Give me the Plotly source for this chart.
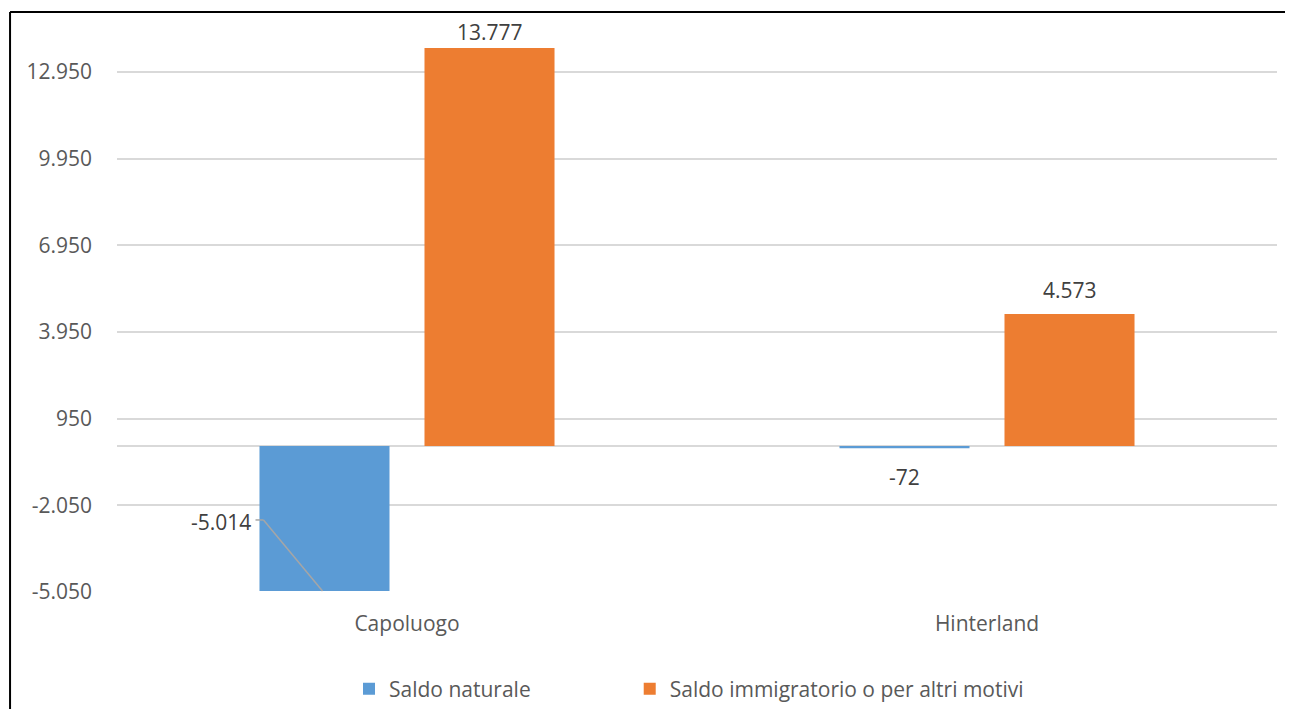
import plotly.graph_objects as go

# ---- data ----
categories = ["Capoluogo", "Hinterland"]
saldo_naturale = [-5014, -72]
saldo_immigratorio = [13777, 4573]
series_names = ["Saldo naturale", "Saldo immigratorio o per altri motivi"]
tick_values = [-5050, -2050, 950, 3950, 6950, 9950, 12950]


def it_fmt(v):
    return f"{v:,}".replace(",", ".")


tick_labels = [it_fmt(v) for v in tick_values]

BLUE = "#5B9BD5"
ORANGE = "#ED7D31"
FONT = "Open Sans"
FS = 21
TICK_COLOR = "#595959"
LABEL_COLOR = "#404040"

BARGAP = 0.431
BARGROUPGAP = 0.212
slot = (1 - BARGAP) / 2

fig = go.Figure()
fig.add_trace(go.Bar(x=categories, y=saldo_naturale, name=series_names[0],
                     marker=dict(color=BLUE, line=dict(width=0)), legend="legend"))
fig.add_trace(go.Bar(x=categories, y=saldo_immigratorio, name=series_names[1],
                     marker=dict(color=ORANGE, line=dict(width=0)), legend="legend2"))

annotations = []
shapes = []
lab_font = dict(family=FONT, size=FS, color=LABEL_COLOR)

# orange labels (above bars)
orange_shift = [16, 24]
for i, v in enumerate(saldo_immigratorio):
    annotations.append(dict(x=i + slot / 2, y=v, xref="x", yref="y", text=it_fmt(v),
                            showarrow=False, yanchor="middle", yshift=orange_shift[i],
                            font=lab_font))

# blue labels
# Capoluogo: moved label with leader line
annotations.append(dict(x=0 - slot / 2, y=saldo_naturale[0], xref="x", yref="y",
                        text=it_fmt(saldo_naturale[0]), showarrow=False,
                        yanchor="middle", xshift=-104, yshift=69, font=lab_font))
shapes.append(dict(type="line", xref="x", yref="y", xsizemode="pixel", ysizemode="pixel",
                   xanchor=0 - slot / 2, yanchor=saldo_naturale[0],
                   x0=-69, y0=71, x1=-61, y1=71, line=dict(color="#A6A6A6", width=1.5)))
shapes.append(dict(type="line", xref="x", yref="y", xsizemode="pixel", ysizemode="pixel",
                   xanchor=0 - slot / 2, yanchor=saldo_naturale[0],
                   x0=-61, y0=71, x1=-2, y1=0, line=dict(color="#A6A6A6", width=1.5)))
# Hinterland
annotations.append(dict(x=1 - slot / 2, y=saldo_naturale[1], xref="x", yref="y",
                        text=it_fmt(saldo_naturale[1]), showarrow=False,
                        yanchor="middle", yshift=-29, font=lab_font))

# outer border (left and top edges visible)
shapes.append(dict(type="line", xref="paper", yref="paper", x0=-0.0922, x1=-0.0922,
                   y0=1.014, y1=-0.25, line=dict(color="black", width=2)))
shapes.append(dict(type="line", xref="paper", yref="paper", x0=-0.0922, x1=1.03,
                   y0=1.014, y1=1.014, line=dict(color="black", width=2)))

leg_font = dict(family=FONT, size=FS, color=TICK_COLOR)
fig.update_layout(
    width=1285, height=701,
    margin=dict(l=109, r=16, t=12, b=117, autoexpand=False),
    paper_bgcolor="white", plot_bgcolor="white",
    barmode="group", bargap=BARGAP, bargroupgap=BARGROUPGAP,
    separators=",.",
    font=dict(family=FONT, size=FS, color=TICK_COLOR),
    showlegend=True,
    legend=dict(orientation="h", x=0.200, xanchor="left", y=-0.1696, yanchor="middle",
                font=leg_font, itemclick=False, bgcolor="rgba(0,0,0,0)"),
    legend2=dict(orientation="h", x=0.442, xanchor="left", y=-0.1696, yanchor="middle",
                 font=leg_font, itemclick=False, bgcolor="rgba(0,0,0,0)"),
    annotations=annotations,
    shapes=shapes,
)
fig.update_xaxes(showgrid=False, showline=False, zeroline=False, ticks="",
                 ticklabelstandoff=17, tickfont=dict(family=FONT, size=FS, color=TICK_COLOR))
fig.update_yaxes(range=[-5050, 14749], tickvals=tick_values, ticktext=tick_labels,
                 showgrid=True, gridcolor="#D9D9D9", gridwidth=1.5,
                 zeroline=True, zerolinecolor="#D9D9D9", zerolinewidth=1.5,
                 showline=False, ticks="", ticklabelstandoff=24,
                 tickfont=dict(family=FONT, size=FS, color=TICK_COLOR))

fig.write_html("out.html")
